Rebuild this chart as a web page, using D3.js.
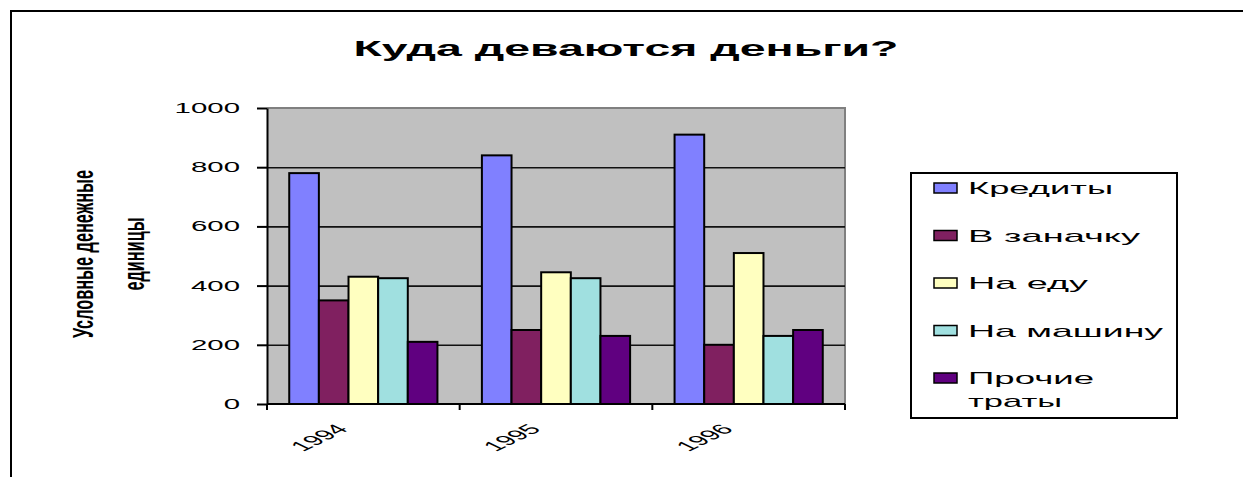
<!DOCTYPE html>
<html>
<head>
<meta charset="utf-8">
<script src="https://cdn.jsdelivr.net/npm/d3@7"></script>
<style>
    html, body { margin: 0; padding: 0; background: #fff; overflow: hidden; }
    svg { display: block; font-family: "Liberation Sans", Arial, sans-serif; }
</style>
</head>
<body>
<div id="chart"></div>
<script>
//Chart data
var years = ["1994", "1995", "1996"];
var seriesNames = ["Кредиты", "В заначку", "На еду", "На машину", "Прочие траты"];
var kredity = [780, 840, 910];
var vZanachku = [350, 250, 200];
var naEdu = [430, 445, 510];
var naMashinu = [425, 425, 230];
var prochieTraty = [210, 230, 250];
var yTicks = [0, 200, 400, 600, 800, 1000];
var legendLines = [["Кредиты"], ["В заначку"], ["На еду"], ["На машину"], ["Прочие", "траты"]];
var titleText = "Куда деваются деньги?";
var yTitleLines = ["Условные денежные", "единицы"];

var seriesValues = [kredity, vZanachku, naEdu, naMashinu, prochieTraty];
var colors = ["#8080ff", "#802060", "#ffffc0", "#a0e0e0", "#600080"];

//Layout
var svgWidth = 1243;
var svgHeight = 477;
var plot = { left: 267, top: 108, right: 845, bottom: 404 };
var stretch = 2.1; // old Excel picture is stretched sideways, text too
var legendTextWidths = [[145], [172], [120], [195], [126, 94]];

var svg = d3.select("#chart")
    .append("svg")
    .attr("width", svgWidth)
    .attr("height", svgHeight);

svg.append("rect")
    .attr("width", svgWidth)
    .attr("height", svgHeight)
    .attr("fill", "#fff");

//Widen a text horizontally the same way the picture is
function widen(sel) {
    sel.each(function() {
        var w = this.getComputedTextLength();
        d3.select(this)
            .attr("textLength", w * stretch)
            .attr("lengthAdjust", "spacingAndGlyphs");
    });
}

//Outer chart frame: only its top and left edges are in view
svg.append("line")
    .attr("x1", 11).attr("x2", 11)
    .attr("y1", 10).attr("y2", svgHeight)
    .attr("stroke", "#000")
    .attr("stroke-width", 2);
svg.append("line")
    .attr("x1", 10).attr("x2", svgWidth)
    .attr("y1", 11).attr("y2", 11)
    .attr("stroke", "#000")
    .attr("stroke-width", 2);

//Title
svg.append("text")
    .attr("x", 626)
    .attr("y", 56)
    .attr("text-anchor", "middle")
    .style("font-size", "22px")
    .style("font-weight", "bold")
    .attr("textLength", 545)
    .attr("lengthAdjust", "spacingAndGlyphs")
    .text(titleText);

//Scales
var yScale = d3.scaleLinear()
    .domain([0, 1000])
    .range([plot.bottom, plot.top]);

var x0 = d3.scaleBand()
    .domain(years)
    .range([plot.left, plot.right]);

var x1 = d3.scaleBand()
    .domain(seriesNames)
    .range([0, x0.bandwidth()])
    .paddingInner(0)
    .paddingOuter(0.75);

//Plot area background
svg.append("rect")
    .attr("x", plot.left)
    .attr("y", plot.top)
    .attr("width", plot.right - plot.left)
    .attr("height", plot.bottom - plot.top)
    .attr("fill", "#c0c0c0");

svg.append("path")
    .attr("d", `M${plot.left},${plot.top}H${plot.right}V${plot.bottom}`)
    .attr("fill", "none")
    .attr("stroke", "#808080")
    .attr("stroke-width", 2);

//Gridlines
var grid = svg.append("g")
    .attr("transform", `translate(${plot.left},0)`)
    .call(d3.axisLeft(yScale)
        .tickValues(yTicks.filter(d => d > 0 && d < 1000))
        .tickSize(-(plot.right - plot.left))
        .tickFormat(""));
grid.select(".domain").remove();
grid.selectAll("line")
    .attr("stroke", "#111")
    .attr("stroke-width", 1.6);

//Bars
var groups = svg.selectAll(".year")
    .data(years)
    .enter()
    .append("g")
    .attr("class", "year")
    .attr("transform", d => `translate(${x0(d)},0)`);

groups.selectAll("rect")
    .data((d, i) => seriesNames.map((s, j) => ({ name: s, value: seriesValues[j][i], color: colors[j] })))
    .enter()
    .append("rect")
    .attr("x", d => x1(d.name))
    .attr("y", d => yScale(d.value))
    .attr("width", x1.bandwidth())
    .attr("height", d => yScale(0) - yScale(d.value))
    .attr("fill", d => d.color)
    .attr("stroke", "#000")
    .attr("stroke-width", 2);

//Y axis
var yAxis = svg.append("g")
    .attr("transform", `translate(${plot.left},0)`)
    .call(d3.axisLeft(yScale)
        .tickValues(yTicks)
        .tickFormat(d3.format("d"))
        .tickSize(10)
        .tickSizeOuter(0)
        .tickPadding(17));
yAxis.select(".domain").attr("stroke", "#000").attr("stroke-width", 2);
yAxis.selectAll("line").attr("stroke", "#000").attr("stroke-width", 2);
yAxis.selectAll("text")
    .style("font-size", "14px")
    .attr("fill", "#000")
    .call(widen);

//X axis line and category boundary ticks
svg.append("line")
    .attr("x1", plot.left)
    .attr("x2", plot.right)
    .attr("y1", plot.bottom)
    .attr("y2", plot.bottom)
    .attr("stroke", "#000")
    .attr("stroke-width", 2);

svg.selectAll(".xtick")
    .data(years.map(d => x0(d)).concat([plot.right]))
    .enter()
    .append("line")
    .attr("class", "xtick")
    .attr("x1", d => d)
    .attr("x2", d => d)
    .attr("y1", plot.bottom)
    .attr("y2", plot.bottom + 6)
    .attr("stroke", "#000")
    .attr("stroke-width", 2);

//X labels, slanted
svg.selectAll(".xlabel")
    .data(years)
    .enter()
    .append("text")
    .attr("class", "xlabel")
    .attr("transform", d => `translate(${x0(d) + x0.bandwidth() / 2 - 14},430) scale(${stretch},1) rotate(-45)`)
    .attr("text-anchor", "end")
    .style("font-size", "14px")
    .text(d => d);

//Y axis title
yTitleLines.forEach(function(line, i) {
    svg.append("text")
        .attr("transform", `translate(${93 + i * 51},254) rotate(-90) scale(1,${stretch})`)
        .attr("text-anchor", "middle")
        .style("font-size", "14px")
        .style("font-weight", "bold")
        .attr("textLength", i === 0 ? 168 : 73)
        .attr("lengthAdjust", "spacingAndGlyphs")
        .text(line);
});

//Legend
var legend = svg.append("g")
    .attr("transform", "translate(911,173)");

legend.append("rect")
    .attr("width", 266)
    .attr("height", 245)
    .attr("fill", "#fff")
    .attr("stroke", "#000")
    .attr("stroke-width", 2);

var items = legend.selectAll(".item")
    .data(seriesNames)
    .enter()
    .append("g")
    .attr("class", "item")
    .attr("transform", (d, i) => `translate(0,${15 + i * 47.5})`);

items.append("rect")
    .attr("x", 23)
    .attr("y", -5)
    .attr("width", 23)
    .attr("height", 10)
    .attr("fill", (d, i) => colors[i])
    .attr("stroke", "#000")
    .attr("stroke-width", 1.5);

items.each(function(d, i) {
    var g = d3.select(this);
    legendLines[i].forEach(function(line, k) {
        g.append("text")
            .attr("x", 57)
            .attr("y", 6 + k * 23)
            .style("font-size", "17px")
            .attr("textLength", legendTextWidths[i][k])
            .attr("lengthAdjust", "spacingAndGlyphs")
            .text(line);
    });
});
</script>
</body>
</html>
